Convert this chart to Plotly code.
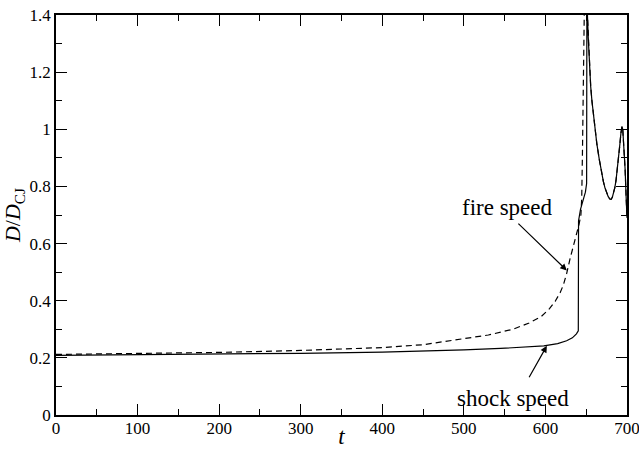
import plotly.graph_objects as go

# ---- data ----
shock_t = [0, 100, 200, 300, 400, 450, 500, 545, 575, 598, 615, 626, 633, 638, 640.3,
           640.6, 643, 646, 649, 650.5, 650.9, 651.5, 652.5, 654, 655.5, 657, 659, 661,
           663, 666, 669, 671, 673, 675, 677, 679, 680.5, 682, 683.5, 685, 686.5, 688,
           689.5, 691, 692.5, 693.8, 694.8, 696, 697.7, 699, 700]
shock_v = [0.209, 0.211, 0.213, 0.216, 0.220, 0.223, 0.228, 0.233, 0.237, 0.242, 0.250,
           0.260, 0.270, 0.284, 0.295,
           0.68, 0.72, 0.75, 0.78, 0.81, 1.60, 1.40, 1.32, 1.22, 1.15, 1.10, 1.045, 0.995,
           0.95, 0.895, 0.845, 0.818, 0.795, 0.777, 0.764, 0.756, 0.755, 0.762, 0.775,
           0.795, 0.82, 0.855, 0.895, 0.94, 0.985, 1.01, 1.0, 0.95, 0.86, 0.76, 0.69]

fire_t = [0, 100, 200, 300, 400, 450, 500, 530, 560, 580, 595, 605, 612, 618, 622, 626,
          630, 634, 638, 641, 643.5, 644.5, 645.3, 645.9, 646.5, 647, 648.5, 651.5,
          652.5, 654, 655.5, 657, 659, 661, 663, 666, 669, 671, 673, 675, 677, 679,
          680.5, 682, 683.5, 685, 686.5, 688, 689.5, 691, 692.5, 693.8, 694.8, 696,
          697.7, 699, 700]
fire_v = [0.212, 0.215, 0.219, 0.226, 0.236, 0.246, 0.266, 0.280, 0.300, 0.322, 0.345,
          0.372, 0.398, 0.428, 0.455, 0.495, 0.545, 0.590, 0.625, 0.665, 0.70, 0.76,
          0.90, 1.10, 1.30, 1.45, 1.60, 1.40,
          1.32, 1.22, 1.15, 1.10, 1.045, 0.995, 0.95, 0.895, 0.845, 0.818, 0.795, 0.777,
          0.764, 0.756, 0.755, 0.762, 0.775, 0.795, 0.82, 0.855, 0.895, 0.94, 0.985,
          1.01, 1.0, 0.95, 0.86, 0.76, 0.69]

x_ticks = [0, 100, 200, 300, 400, 500, 600, 700]
y_ticks = [0, 0.2, 0.4, 0.6, 0.8, 1.0, 1.2, 1.4]
y_ticklabels = ["0", "0.2", "0.4", "0.6", "0.8", "1", "1.2", "1.4"]

FONT = "Liberation Serif"

fig = go.Figure()
fig.add_trace(go.Scatter(x=fire_t, y=fire_v, mode="lines",
                         line=dict(color="black", width=1.2, dash="6px,4px"),
                         showlegend=False, name="fire speed"))
fig.add_trace(go.Scatter(x=shock_t, y=shock_v, mode="lines",
                         line=dict(color="black", width=1.2),
                         showlegend=False, name="shock speed"))

axis_common = dict(showline=True, linecolor="black", linewidth=1.6, mirror="allticks",
                   ticks="inside", ticklen=11, tickwidth=1.2, tickcolor="black",
                   showgrid=False, zeroline=False, ticklabeloverflow="allow",
                   tickfont=dict(family=FONT, size=17, color="black"))

fig.update_xaxes(range=[0, 700], tickvals=x_ticks, ticktext=[str(v) for v in x_ticks],
                 minor=dict(dtick=50, ticks="inside", ticklen=6, tickwidth=1.2,
                            tickcolor="black", showgrid=False),
                 ticklabelstandoff=-3,
                 title=dict(text="<i>t</i>", font=dict(family=FONT, size=23, color="black"),
                            standoff=2),
                 **axis_common)
fig.update_yaxes(range=[0, 1.4], tickvals=y_ticks, ticktext=y_ticklabels,
                 minor=dict(dtick=0.1, ticks="inside", ticklen=6, tickwidth=1.2,
                            tickcolor="black", showgrid=False),
                 title=dict(text="<i>D</i>/<i>D</i><sub>CJ</sub>",
                            font=dict(family=FONT, size=22, color="black"), standoff=4),
                 **axis_common)

arrow = dict(showarrow=True, arrowhead=2, arrowsize=1.1, arrowwidth=1.2,
             arrowcolor="black", axref="x", ayref="y", xref="x", yref="y", text="")
fig.add_annotation(x=626.2, y=0.506, ax=565, ay=0.675, **arrow)
fig.add_annotation(x=601.7, y=0.242, ax=579, ay=0.127, **arrow)
fig.add_annotation(x=554, y=0.727, text="fire speed", showarrow=False,
                   font=dict(family=FONT, size=23, color="black"))
fig.add_annotation(x=560, y=0.058, text="shock speed", showarrow=False,
                   font=dict(family=FONT, size=23, color="black"))

fig.update_layout(width=639, height=449,
                  margin=dict(l=56, r=12, t=15, b=34, autoexpand=False),
                  plot_bgcolor="white", paper_bgcolor="white",
                  font=dict(family=FONT, color="black"))

fig.write_html("out.html", config={"displayModeBar": False},
               post_script="document.body.style.margin='0';"
                           "document.body.style.overflow='hidden';")
